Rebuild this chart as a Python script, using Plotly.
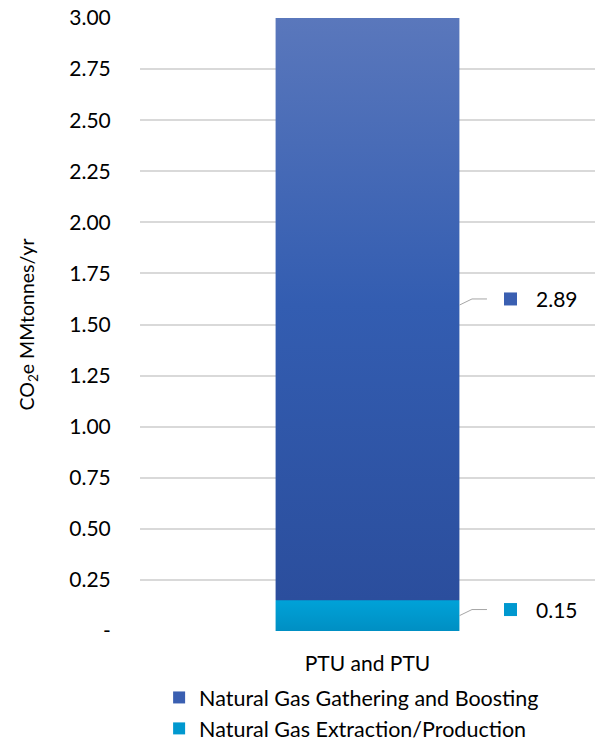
import plotly.graph_objects as go

categories = ["PTU and PTU"]
series_names = ["Natural Gas Extraction/Production", "Natural Gas Gathering and Boosting"]
series_values = [[0.15], [2.89]]
legend_ranks = [2, 1]
series_colors = ["#0098cf", "#3a5fb1"]
gradient_scales = [
    [[0, "#008fc3"], [1, "#00a2d8"]],
    [[0, "#2b4e9d"], [0.5, "#335db1"], [1, "#5b78bc"]],
]
ytick_vals = [0, 0.25, 0.5, 0.75, 1.0, 1.25, 1.5, 1.75, 2.0, 2.25, 2.5, 2.75, 3.0]
ytick_text = ["-"] + [f"{v:.2f}" for v in ytick_vals[1:]]

FONT = "Lato"
BAR_W = 0.404
YMAX = 3.0

fig = go.Figure()

# Stacked bars
for name, vals, col, rk in zip(series_names, series_values, series_colors, legend_ranks):
    fig.add_trace(go.Bar(
        x=[0], y=vals, name=name, width=BAR_W, legendgroup=name, legendrank=rk,
        marker=dict(color=col, line=dict(width=0)),
        hoverinfo="skip",
    ))

# Gradient overlays + data labels
base = 0.0
for name, vals, col, cs in zip(series_names, series_values, series_colors, gradient_scales):
    v = vals[0]
    top = base + v
    fig.add_trace(go.Scatter(
        x=[-BAR_W / 2, BAR_W / 2, BAR_W / 2, -BAR_W / 2, -BAR_W / 2],
        y=[base, base, top, top, base],
        mode="lines", line=dict(width=0), fill="toself",
        fillgradient=dict(type="vertical", colorscale=cs),
        showlegend=False, hoverinfo="skip",
    ))
    ymid = base + v / 2
    ylab = ymid + 0.03
    # leader line
    fig.add_trace(go.Scatter(
        x=[BAR_W / 2, 0.2297, 0.2626],
        y=[ymid, ylab, ylab],
        mode="lines", line=dict(color="#a6a6a6", width=1),
        showlegend=False, hoverinfo="skip",
    ))
    # legend key square
    fig.add_trace(go.Scatter(
        x=[0.3143], y=[ylab], mode="markers",
        marker=dict(symbol="square", size=13, color=col),
        showlegend=False, hoverinfo="skip",
    ))
    fig.add_annotation(
        x=0.366, y=ylab, xref="x", yref="y", text=f"{v:.2f}",
        showarrow=False, xanchor="left", yanchor="middle",
        font=dict(family=FONT, size=21, color="#000000"),
    )
    base = top

fig.update_layout(
    width=595, height=742,
    barmode="stack",
    paper_bgcolor="white", plot_bgcolor="white",
    margin=dict(l=140, r=0, t=18, b=111, autoexpand=False),
    font=dict(family=FONT, size=21, color="#000000"),
    showlegend=True,
    legend=dict(
        orientation="v", traceorder="grouped", tracegroupgap=0,
        x=0.042, xanchor="left", xref="paper",
        y=-0.075, yanchor="top",
        font=dict(family=FONT, size=21.5, color="#000000"),
        itemclick=False, itemdoubleclick=False,
        bgcolor="rgba(0,0,0,0)",
    ),
    xaxis=dict(
        range=[-0.5, 0.5],
        tickvals=[0], ticktext=categories,
        ticks="outside", ticklen=14, tickcolor="rgba(0,0,0,0)",
        showgrid=False, zeroline=False, showline=False,
        tickfont=dict(family=FONT, size=21),
        fixedrange=True,
    ),
    yaxis=dict(
        range=[0, YMAX],
        tickvals=ytick_vals, ticktext=ytick_text,
        showgrid=True, gridcolor="#d9d9d9", gridwidth=1.5,
        zeroline=False, showline=False,
        ticks="outside", ticklen=24, tickcolor="rgba(0,0,0,0)",
        tickfont=dict(family=FONT, size=21),
        title=dict(text="CO<sub>2</sub>e MMtonnes/yr", font=dict(family=FONT, size=19.5), standoff=29),
        fixedrange=True,
    ),
)

fig.write_html(
    "out.html",
    config={"displayModeBar": False},
    post_script="document.body.style.margin='0';document.body.style.overflow='hidden';",
)
